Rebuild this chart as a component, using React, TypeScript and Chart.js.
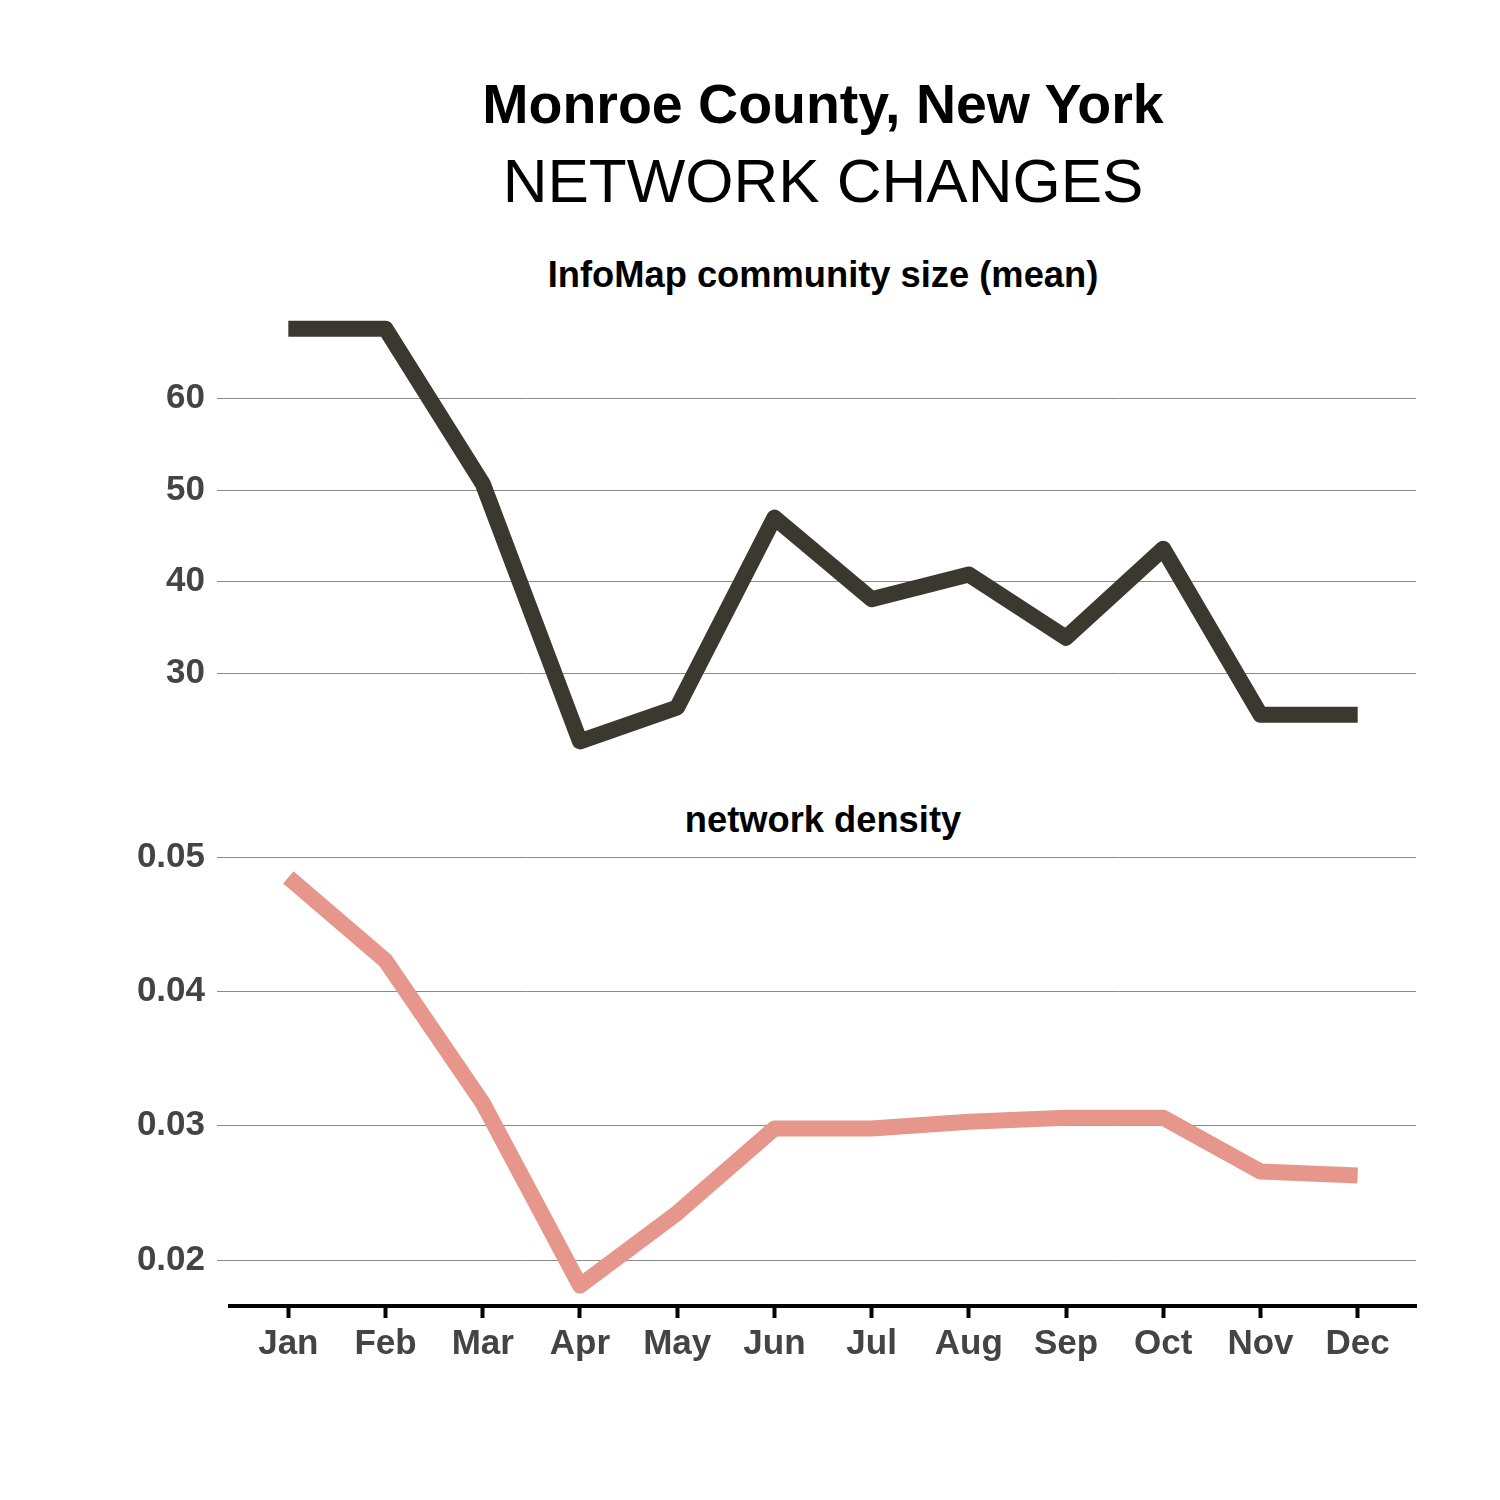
import React, { useEffect, useRef } from "react";
import { Chart, registerables } from "chart.js";

Chart.register(...registerables);

const MONTHS = ["Jan", "Feb", "Mar", "Apr", "May", "Jun", "Jul", "Aug", "Sep", "Oct", "Nov", "Dec"];
const COMMUNITY_SIZE = [67.6, 67.6, 50.7, 22.6, 26.3, 47.0, 38.1, 40.8, 33.9, 43.6, 25.5, 25.5];
const DENSITY = [0.0485, 0.0423, 0.0317, 0.0181, 0.0235, 0.0298, 0.0298, 0.0303, 0.0306, 0.0306, 0.0266, 0.0263];
const SIZE_TICKS = [30, 40, 50, 60];
const DENSITY_TICKS = [0.02, 0.03, 0.04, 0.05];

const TITLE = "Monroe County, New York";
const SUBTITLE = "NETWORK CHANGES";
const PANEL1 = "InfoMap community size (mean)";
const PANEL2 = "network density";

const FONT = "'Liberation Sans', Arial, Helvetica, sans-serif";
const TICK_COLOR = "#444444";
const GRID_COLOR = "#8a8a8a";

function expand(vals: number[]) {
  const mn = Math.min(...vals);
  const mx = Math.max(...vals);
  const d = (mx - mn) * 0.05;
  return { min: mn - d, max: mx + d };
}

function xScale(show: boolean) {
  return {
    type: "linear" as const,
    display: show,
    min: -0.6,
    max: 11.6,
    afterBuildTicks: (s: any) => {
      s.ticks = MONTHS.map((_, i) => ({ value: i }));
    },
    afterFit: (s: any) => {
      if (show) s.height = 60;
    },
    ticks: {
      autoSkip: false,
      maxRotation: 0,
      padding: 5,
      color: TICK_COLOR,
      font: { family: FONT, size: 35, weight: "bold" as const },
      callback: (v: any) => MONTHS[Math.round(v)] ?? "",
    },
    grid: {
      drawOnChartArea: false,
      drawTicks: true,
      tickLength: 12,
      tickColor: "#000000",
      tickWidth: 4,
    },
    border: { display: show, color: "#000000", width: 4 },
  };
}

function yScale(vals: number[], ticks: number[], fmt: (v: number) => string) {
  const r = expand(vals);
  return {
    type: "linear" as const,
    min: r.min,
    max: r.max,
    afterBuildTicks: (s: any) => {
      s.ticks = ticks.map((v) => ({ value: v }));
    },
    afterFit: (s: any) => {
      s.width = 130;
    },
    ticks: {
      padding: 12,
      color: TICK_COLOR,
      font: { family: FONT, size: 35, weight: "bold" as const },
      callback: (v: any) => fmt(Number(v)),
    },
    grid: {
      color: GRID_COLOR,
      lineWidth: 1,
      drawTicks: true,
      tickLength: 13,
      tickColor: GRID_COLOR,
    },
    border: { display: false },
  };
}

function makeChart(
  canvas: HTMLCanvasElement,
  vals: number[],
  color: string,
  ticks: number[],
  fmt: (v: number) => string,
  showX: boolean,
  padTop: number,
  padBottom: number
) {
  return new Chart(canvas, {
    type: "line",
    data: {
      datasets: [
        {
          data: vals.map((v, i) => ({ x: i, y: v })),
          borderColor: color,
          backgroundColor: color,
          borderWidth: 16,
          borderCapStyle: "butt",
          borderJoinStyle: "round",
          pointRadius: 0,
          tension: 0,
          fill: false,
        },
      ],
    },
    options: {
      responsive: false,
      animation: false,
      layout: { padding: { left: 100, right: 84, top: padTop, bottom: padBottom } },
      plugins: { legend: { display: false }, tooltip: { enabled: false }, title: { display: false } },
      scales: {
        x: xScale(showX) as any,
        y: yScale(vals, ticks, fmt) as any,
      },
    },
  });
}

const titleStyle = (top: number, size: number, weight: string): React.CSSProperties => ({
  position: "absolute",
  left: 230,
  width: 1186,
  top,
  fontFamily: FONT,
  fontSize: size,
  fontWeight: weight as any,
  lineHeight: 1,
  textAlign: "center",
  color: "#000",
  whiteSpace: "nowrap",
});

export default function App() {
  const topRef = useRef<HTMLCanvasElement>(null);
  const botRef = useRef<HTMLCanvasElement>(null);

  useEffect(() => {
    const c1 = makeChart(topRef.current!, COMMUNITY_SIZE, "#3B382F", SIZE_TICKS, (v) => String(v), false, 17, 19);
    const c2 = makeChart(botRef.current!, DENSITY, "#E6968A", DENSITY_TICKS, (v) => v.toFixed(2), true, 17, 34);
    return () => {
      c1.destroy();
      c2.destroy();
    };
  }, []);

  return (
    <div style={{ position: "absolute", left: 0, top: 0, width: 1500, height: 1500, background: "#fff", overflow: "hidden" }}>
      <div style={titleStyle(77, 55.5, "bold")}>{TITLE}</div>
      <div style={titleStyle(150, 62, "normal")}>{SUBTITLE}</div>
      <div style={titleStyle(257, 36.3, "bold")}>{PANEL1}</div>
      <div style={titleStyle(802, 36.3, "bold")}>{PANEL2}</div>
      <canvas ref={topRef} width={1500} height={520} style={{ position: "absolute", left: 0, top: 275, display: "block" }} />
      <canvas ref={botRef} width={1500} height={576} style={{ position: "absolute", left: 0, top: 824, display: "block" }} />
    </div>
  );
}
